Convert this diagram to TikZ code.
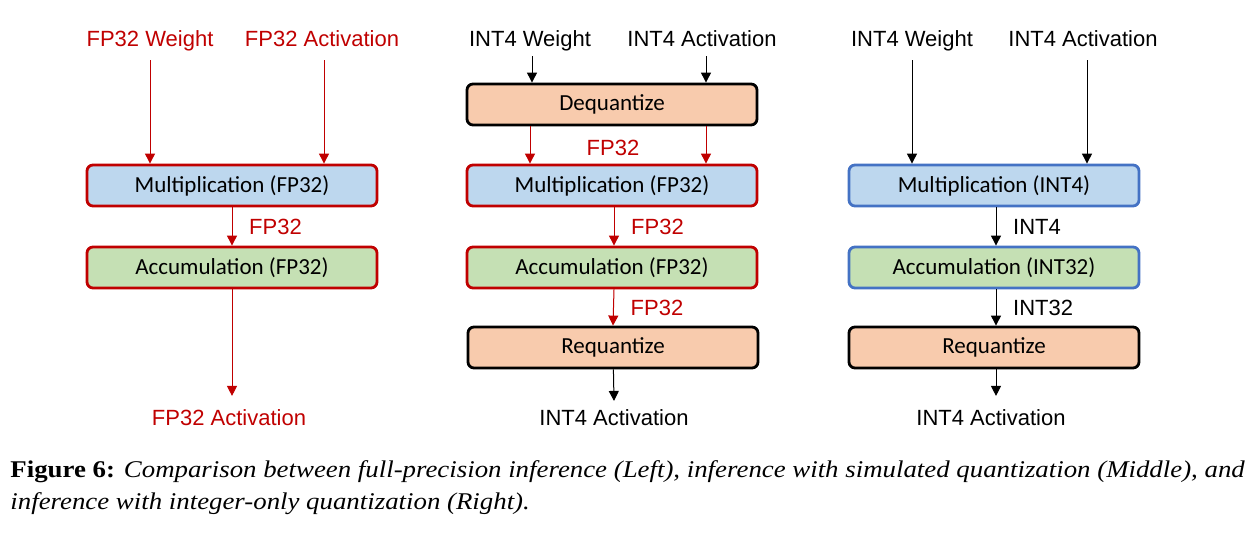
\documentclass[tikz,border=0pt]{standalone}
\usepackage{fontspec}
\setmainfont{Liberation Serif}
\setsansfont{Liberation Sans}
\newfontfamily\boxfont{Carlito}
\usetikzlibrary{arrows.meta, positioning}

\definecolor{fpred}{HTML}{C00000}
\definecolor{intblue}{HTML}{4472C4}
\definecolor{mulfill}{HTML}{BDD7EE}
\definecolor{accfill}{HTML}{C5E0B4}
\definecolor{quantfill}{HTML}{F8CBAD}

\begin{document}
\begin{tikzpicture}[x=0.5pt, y=-0.5pt, font=\sffamily\fontsize{11}{13}\selectfont]

        % Setup the styles for the boxes and arrows
        \tikzset{box style/.style={draw,
                                   rounded corners=3pt,
                                   line width=1.4pt,
                                   minimum width=145pt,
                                   minimum height=20.5pt,
                                   inner sep=0pt,
                                   font=\boxfont\fontsize{11.5}{13}\selectfont},
                 io style/.style={anchor=base, text height=0.75em, text depth=0.2em},
                 flow/.style={-{Triangle[length=5pt, width=5pt]}, line width=0.5pt}}

        \useasboundingbox (0,0) rectangle (1260,533);

        % Left: full precision
        \node[io style, text=fpred] at (150, 47)   (WL)  {FP32 Weight};
        \node[io style, text=fpred] at (322, 47)   (AL)  {FP32 Activation};
        \node[box style, draw=fpred, fill=mulfill]
                          at (232, 185.5) (ML) {Multiplication (FP32)};
        \node[box style, draw=fpred, fill=accfill]
                          at (232, 267.5) (CL) {Accumulation (FP32)};
        \node[io style, text=fpred] at (229, 426)  (OL)  {FP32 Activation};

        % Middle: simulated quantization
        \node[io style] at (530, 47)   (WM)  {INT4 Weight};
        \node[io style] at (702, 47)   (AM)  {INT4 Activation};
        \node[box style, fill=quantfill]
                          at (612, 104.5) (DM) {Dequantize};
        \node[text=fpred] at (613, 148)  (FM)  {FP32};
        \node[box style, draw=fpred, fill=mulfill]
                          at (612, 185.5) (MM) {Multiplication (FP32)};
        \node[box style, draw=fpred, fill=accfill]
                          at (612, 267.5) (CM) {Accumulation (FP32)};
        \node[box style, fill=quantfill]
                          at (613, 347.5) (RM) {Requantize};
        \node[io style] at (614, 426)  (OM)  {INT4 Activation};

        % Right: integer-only quantization
        \node[io style] at (912, 47)   (WR)  {INT4 Weight};
        \node[io style] at (1083, 47)  (AR)  {INT4 Activation};
        \node[box style, draw=intblue, fill=mulfill]
                          at (994, 185.5) (MR) {Multiplication (INT4)};
        \node[box style, draw=intblue, fill=accfill]
                          at (994, 267.5) (CR) {Accumulation (INT32)};
        \node[box style, fill=quantfill]
                          at (994, 347.5) (RR) {Requantize};
        \node[io style] at (991, 426)  (OR)  {INT4 Activation};

        % Connect the boxes
        \draw[flow, draw=fpred, fill=fpred]
            ([yshift=-1pt]WL.south) -- (WL.south |- ML.north);
        \draw[flow, draw=fpred, fill=fpred]
            ([xshift=1pt, yshift=-1pt]AL.south) -- ([xshift=1pt]AL.south |- ML.north);
        \draw[flow, draw=fpred, fill=fpred]
            (ML) -- node[right=5pt, text=fpred] {FP32} (CL);
        \draw[flow, draw=fpred, fill=fpred] (CL) -- ([yshift=4pt]OL.north -| CL.south);

        \draw[flow] ([xshift=1pt, yshift=1pt]WM.south) -- ([xshift=1pt]WM.south |- DM.north);
        \draw[flow] ([xshift=2pt, yshift=1pt]AM.south) -- ([xshift=2pt]AM.south |- DM.north);
        \draw[flow, draw=fpred, fill=fpred]
            ([xshift=-41pt]DM.south) -- ([xshift=-41pt]MM.north);
        \draw[flow, draw=fpred, fill=fpred]
            ([xshift=47pt]DM.south) -- ([xshift=47pt]MM.north);
        \draw[flow, draw=fpred, fill=fpred]
            ([xshift=1pt]MM.south) -- node[right=5pt, text=fpred] {FP32} ([xshift=1pt]CM.north);
        \draw[flow, draw=fpred, fill=fpred]
            ([xshift=1pt]CM.south) -- node[right=5pt, text=fpred] {FP32} (RM.north);
        \draw[flow] (RM) -- ([yshift=1.5pt]OM.north);

        \draw[flow] ([yshift=-1pt]WR.south) -- (WR.south |- MR.north);
        \draw[flow] ([xshift=2pt, yshift=-1pt]AR.south) -- ([xshift=2pt]AR.south |- MR.north);
        \draw[flow] ([xshift=1pt]MR.south) -- node[right=5pt] {INT4} ([xshift=1pt]CR.north);
        \draw[flow] ([xshift=1pt]CR.south) -- node[right=5pt] {INT32} ([xshift=1pt]RR.north);
        \draw[flow] ([xshift=1pt]RR.south) -- ([xshift=1pt, yshift=4pt]RR.south |- OR.north);

        % Caption
        \node[anchor=base west, inner sep=0pt, xscale=1.118, transform shape,
              font=\rmfamily\fontsize{12}{16}\selectfont]
            at (10, 478) (cap1) {\textbf{Figure 6:} \textit{Comparison between full-precision inference (Left), inference with simulated quantization (Middle), and}};
        \node[anchor=base west, inner sep=0pt, xscale=1.118, transform shape,
              font=\rmfamily\fontsize{12}{16}\selectfont]
            at (10, 510) (cap2) {\textit{inference with integer-only quantization (Right).}};
\end{tikzpicture}
\end{document}
